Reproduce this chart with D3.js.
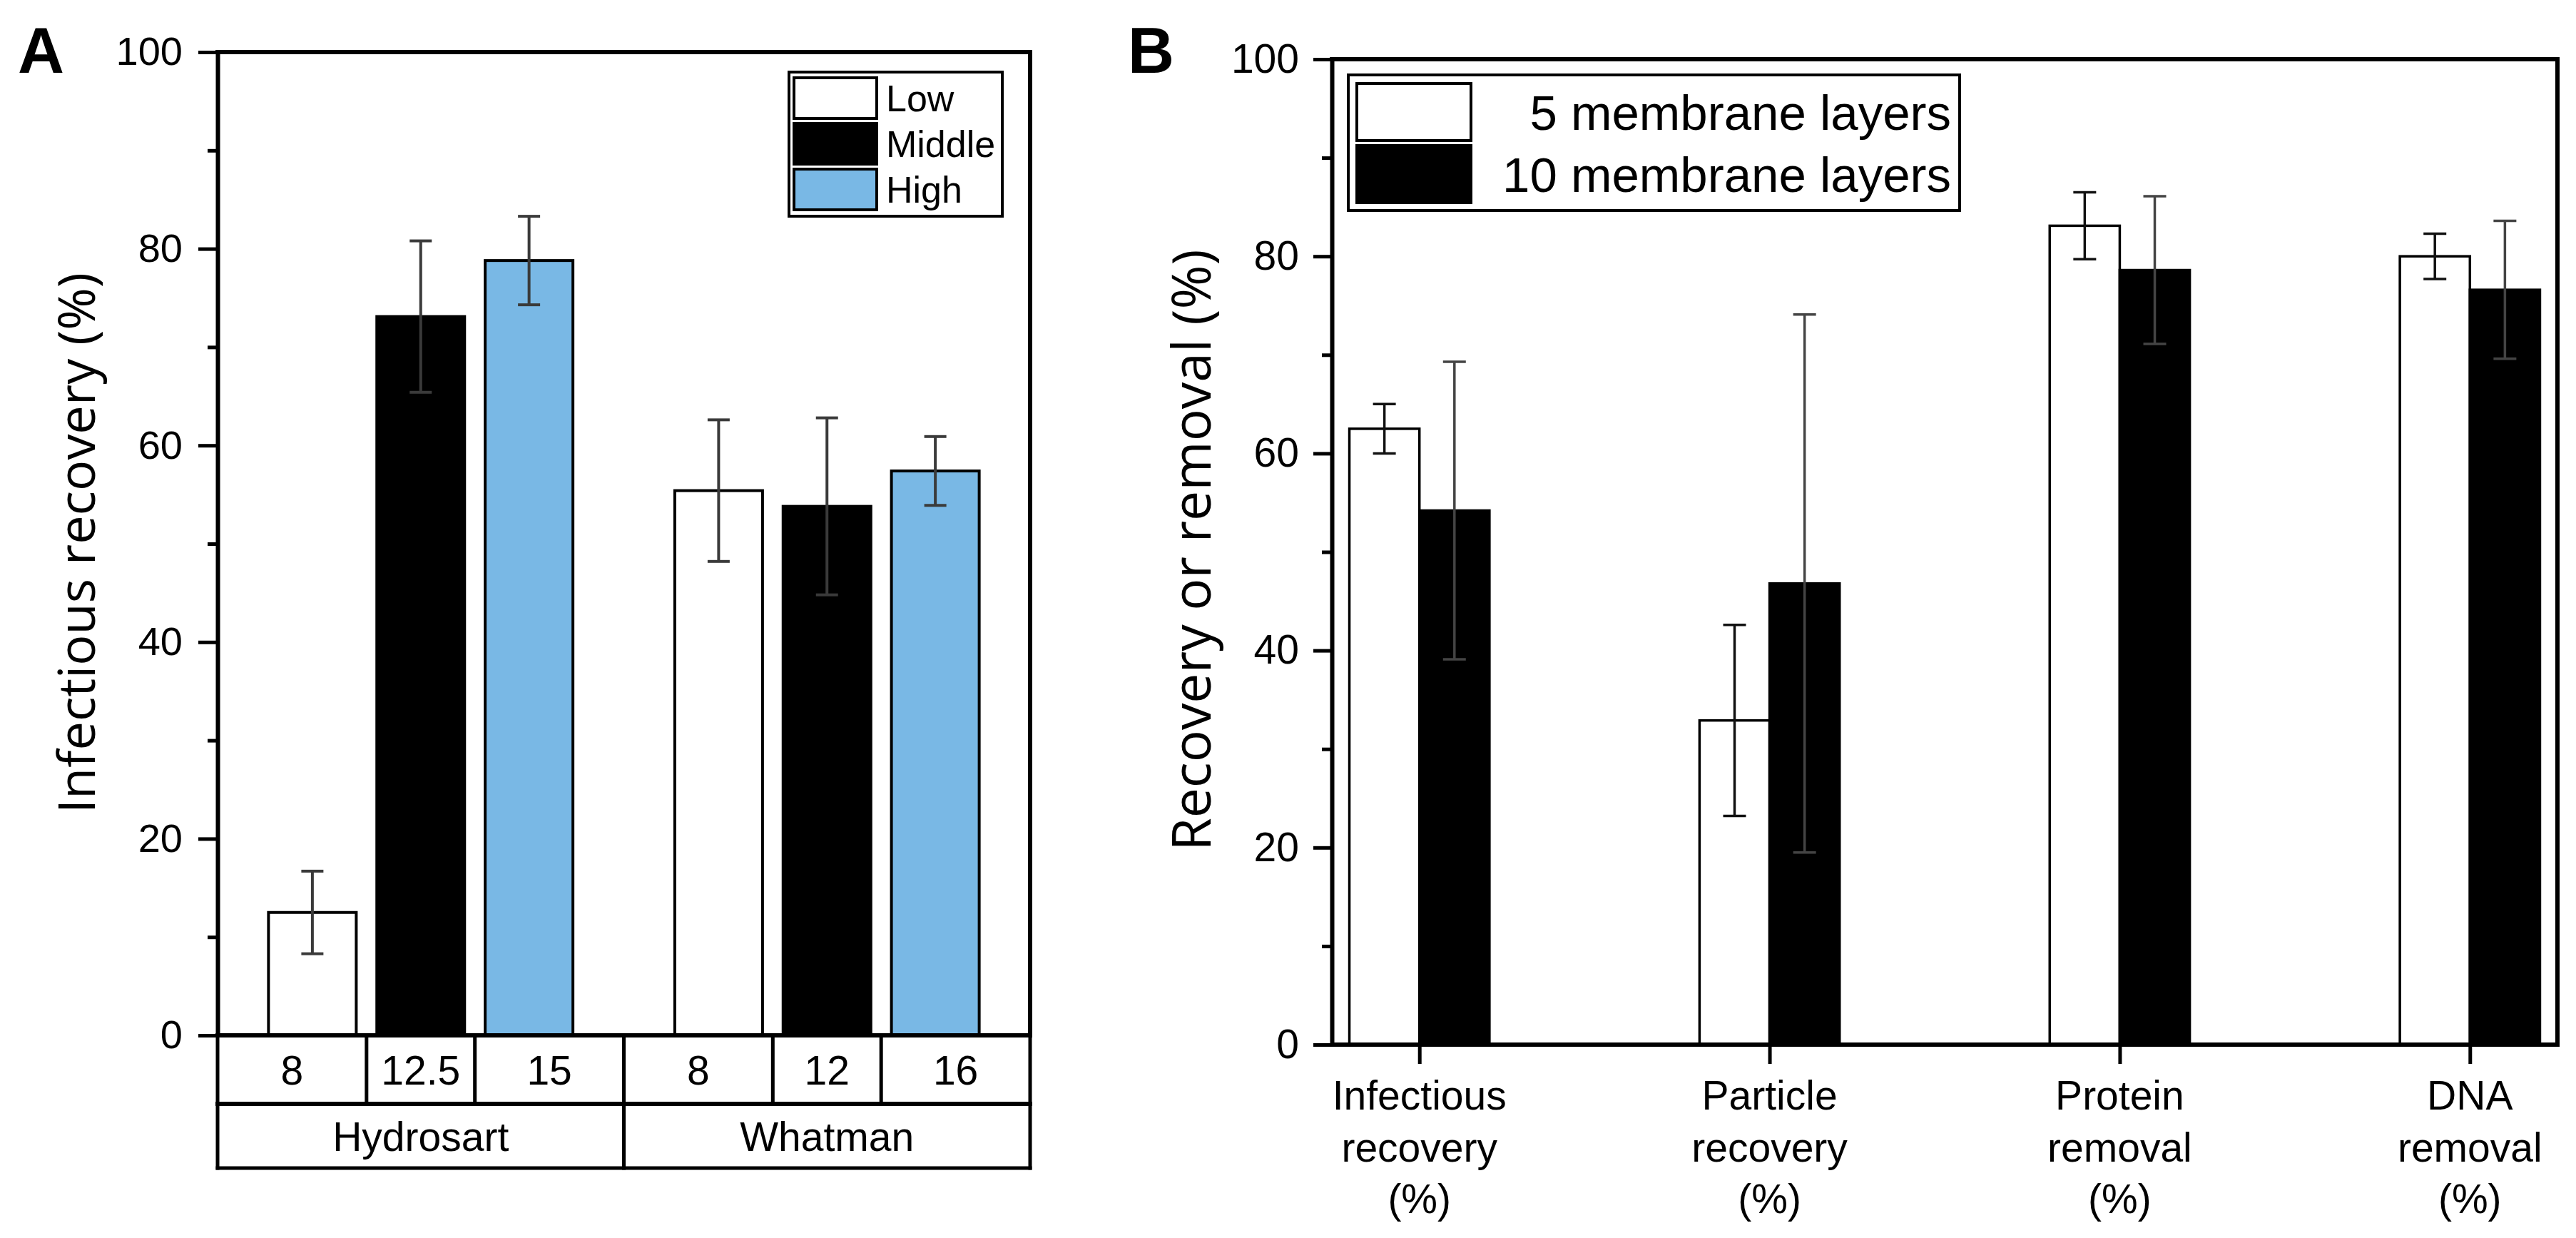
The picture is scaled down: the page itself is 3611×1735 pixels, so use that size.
<!DOCTYPE html>
<html>
<head>
<meta charset="utf-8">
<script src="https://cdn.jsdelivr.net/npm/d3@7"></script>
<style>
  html, body { margin: 0; padding: 0; background: #fff; }
  svg { display: block; }
</style>
</head>
<body>
<svg id="chart" width="3611" height="1735"></svg>
<script>
// ---------------- DATA ----------------
// Panel A
const groupsA = ["Hydrosart", "Whatman"];
const seriesA = ["Low", "Middle", "High"];
const sizeLabelsA = [["8", "12.5", "15"], ["8", "12", "16"]];
const valuesA_Hydrosart = [12.5, 73.1, 78.8];
const errorsA_Hydrosart = [4.2, 7.7, 4.5];
const valuesA_Whatman = [55.4, 53.8, 57.4];
const errorsA_Whatman = [7.2, 9.0, 3.5];
const yTicksA = [0, 20, 40, 60, 80, 100];
const yMinorA = [10, 30, 50, 70, 90];

// Panel B
const categoriesB = [
  ["Infectious", "recovery", "(%)"],
  ["Particle", "recovery", "(%)"],
  ["Protein", "removal", "(%)"],
  ["DNA", "removal", "(%)"]
];
const seriesB = ["5 membrane layers", "10 membrane layers"];
const values5 = [62.5, 32.9, 83.1, 80.0];
const errors5 = [2.5, 9.7, 3.4, 2.3];
const values10 = [54.2, 46.8, 78.6, 76.6];
const errors10 = [15.1, 27.3, 7.5, 7.0];
const yTicksB = [0, 20, 40, 60, 80, 100];
const yMinorB = [10, 30, 50, 70, 90];

// ---------------- STYLE ----------------
const ARIAL = "'Liberation Sans', Arial, sans-serif";
const TITLE_FONT = "'Open Sans', 'Noto Sans', sans-serif";
const colorsA = { "Low": "#ffffff", "Middle": "#000000", "High": "#79b8e5" };
const colorsB = { "5 membrane layers": "#ffffff", "10 membrane layers": "#000000" };
const errColorsB = { "5 membrane layers": "#111111", "10 membrane layers": "#444444" };
const AXIS_W = 6;

const svg = d3.select("#chart");
svg.append("rect").attr("width", 3611).attr("height", 1735).attr("fill", "#fff");

// ======================= PANEL A =======================
const A = { left: 305, right: 1444, top: 73, bottom: 1451 };
const gA = svg.append("g");
const yA = d3.scaleLinear().domain([0, 100]).range([A.bottom, A.top]);
const xGroupA = d3.scaleBand().domain(groupsA).range([A.left, A.right]).padding(0);
const xInnerA = d3.scaleBand().domain(seriesA).range([0, xGroupA.bandwidth()])
  .paddingInner(0.19).paddingOuter(0.47);

const tableA = groupsA.map((g, gi) => ({
  group: g,
  values: gi === 0 ? valuesA_Hydrosart : valuesA_Whatman,
  errors: gi === 0 ? errorsA_Hydrosart : errorsA_Whatman,
  sizes: sizeLabelsA[gi]
}));
const barsA = [];
tableA.forEach(row => seriesA.forEach((s, si) => barsA.push({
  group: row.group, series: s, value: row.values[si], err: row.errors[si], size: row.sizes[si], si
})));

const bw = xInnerA.bandwidth();
gA.selectAll("rect.bar").data(barsA).join("rect")
  .attr("class", "bar")
  .attr("x", d => xGroupA(d.group) + xInnerA(d.series))
  .attr("y", d => yA(d.value))
  .attr("width", bw)
  .attr("height", d => yA(0) - yA(d.value))
  .attr("fill", d => colorsA[d.series])
  .attr("stroke", "#000").attr("stroke-width", 4);

// error bars
const capA = 31;
const ebA = gA.selectAll("g.eb").data(barsA).join("g").attr("class", "eb")
  .attr("stroke", "#3a3a3a").attr("stroke-width", 4);
ebA.append("line")
  .attr("x1", d => xGroupA(d.group) + xInnerA(d.series) + bw / 2)
  .attr("x2", d => xGroupA(d.group) + xInnerA(d.series) + bw / 2)
  .attr("y1", d => yA(d.value + d.err)).attr("y2", d => yA(d.value - d.err));
["+", "-"].forEach(sign => {
  ebA.append("line")
    .attr("x1", d => xGroupA(d.group) + xInnerA(d.series) + bw / 2 - capA / 2)
    .attr("x2", d => xGroupA(d.group) + xInnerA(d.series) + bw / 2 + capA / 2)
    .attr("y1", d => yA(sign === "+" ? d.value + d.err : d.value - d.err))
    .attr("y2", d => yA(sign === "+" ? d.value + d.err : d.value - d.err));
});

// frame top + right
gA.append("line").attr("x1", A.left).attr("x2", A.right).attr("y1", A.top).attr("y2", A.top)
  .attr("stroke", "#000").attr("stroke-width", AXIS_W).attr("stroke-linecap", "square");
gA.append("line").attr("x1", A.right).attr("x2", A.right).attr("y1", A.top).attr("y2", A.bottom)
  .attr("stroke", "#000").attr("stroke-width", AXIS_W).attr("stroke-linecap", "square");

// y axis
function styleAxis(g, fs) {
  g.select(".domain").attr("stroke", "#000").attr("stroke-width", AXIS_W);
  g.selectAll(".tick line").attr("stroke", "#000").attr("stroke-width", 5);
  g.selectAll(".tick text").attr("font-family", ARIAL).attr("font-size", fs).attr("fill", "#000");
}
const axA = gA.append("g").attr("transform", `translate(${A.left},0)`)
  .call(d3.axisLeft(yA).tickValues(yTicksA).tickSize(27).tickPadding(22).tickSizeOuter(0));
styleAxis(axA, 56);
const axAm = gA.append("g").attr("transform", `translate(${A.left},0)`)
  .call(d3.axisLeft(yA).tickValues(yMinorA).tickSize(14).tickFormat("").tickSizeOuter(0));
styleAxis(axAm, 56);
axAm.select(".domain").remove();

// x baseline + table
const rowTop = A.bottom, rowMid = 1547, rowBot = 1637;
const lineA = (x1, y1, x2, y2, w) => gA.append("line").attr("x1", x1).attr("y1", y1)
  .attr("x2", x2).attr("y2", y2).attr("stroke", "#000").attr("stroke-width", w).attr("stroke-linecap", "square");
lineA(A.left, rowTop, A.right, rowTop, AXIS_W);
lineA(A.left, rowMid, A.right, rowMid, 6);
lineA(A.left, rowBot, A.right, rowBot, 5);
lineA(A.left, rowTop, A.left, rowBot, 5);
lineA(A.right, rowTop, A.right, rowBot, 5);
const step = xInnerA.step();
tableA.forEach((row, gi) => {
  const g0 = xGroupA(row.group), g1 = g0 + xGroupA.bandwidth();
  const bounds = [g0];
  for (let i = 0; i < seriesA.length - 1; i++) {
    bounds.push(g0 + xInnerA(seriesA[i]) + bw + (step - bw) / 2);
  }
  bounds.push(g1);
  if (gi > 0) lineA(g0, rowTop, g0, rowBot, 5);
  bounds.slice(1, -1).forEach(b => lineA(b, rowTop, b, rowMid, 5));
  row.sizes.forEach((s, i) => {
    gA.append("text").attr("x", (bounds[i] + bounds[i + 1]) / 2).attr("y", (rowTop + rowMid) / 2)
      .attr("dy", "0.36em").attr("text-anchor", "middle")
      .attr("font-family", ARIAL).attr("font-size", 57).text(s);
  });
  gA.append("text").attr("x", (g0 + g1) / 2).attr("y", (rowMid + rowBot) / 2)
    .attr("dy", "0.36em").attr("text-anchor", "middle")
    .attr("font-family", ARIAL).attr("font-size", 57).text(row.group);
});

// y title
gA.append("text").attr("transform", `translate(133,761) rotate(-90)`)
  .attr("text-anchor", "middle").attr("font-family", TITLE_FONT).attr("font-size", 72)
  .text("Infectious recovery (%)");

// panel label
svg.append("text").attr("x", 25).attr("y", 102).attr("font-family", ARIAL).attr("font-weight", "bold")
  .attr("font-size", 90).text("A");

// legend A
const legA = gA.append("g");
legA.append("rect").attr("x", 1106).attr("y", 101).attr("width", 299).attr("height", 202)
  .attr("fill", "#fff").attr("stroke", "#000").attr("stroke-width", 4);
seriesA.forEach((s, i) => {
  const yy = 109 + i * 64;
  legA.append("rect").attr("x", 1113).attr("y", yy).attr("width", 116).attr("height", 57)
    .attr("fill", colorsA[s]).attr("stroke", "#000").attr("stroke-width", 4);
  legA.append("text").attr("x", 1242).attr("y", yy + 29).attr("dy", "0.35em")
    .attr("font-family", ARIAL).attr("font-size", 52).text(s);
});

// ======================= PANEL B =======================
const B = { left: 1867, right: 3585, top: 83, bottom: 1464 };
const gB = svg.append("g");
const yB = d3.scaleLinear().domain([0, 100]).range([B.bottom, B.top]);
const catKeys = categoriesB.map(c => c.join(" "));
const xB = d3.scalePoint().domain(catKeys).range([B.left, B.right]).padding(0.25);
const barWB = xB.step() * 0.2;

const barsB = [];
catKeys.forEach((c, i) => {
  barsB.push({ cat: c, series: seriesB[0], value: values5[i], err: errors5[i], off: -1 });
  barsB.push({ cat: c, series: seriesB[1], value: values10[i], err: errors10[i], off: 0 });
});
gB.selectAll("rect.bar").data(barsB).join("rect")
  .attr("class", "bar")
  .attr("x", d => xB(d.cat) + d.off * barWB)
  .attr("y", d => yB(d.value))
  .attr("width", barWB)
  .attr("height", d => yB(0) - yB(d.value))
  .attr("fill", d => colorsB[d.series])
  .attr("stroke", "#000").attr("stroke-width", 3.5);

const capB = 32;
const ebB = gB.selectAll("g.eb").data(barsB).join("g").attr("class", "eb")
  .attr("stroke", d => errColorsB[d.series]).attr("stroke-width", 3.5);
const cxB = d => xB(d.cat) + d.off * barWB + barWB / 2;
ebB.append("line").attr("x1", cxB).attr("x2", cxB)
  .attr("y1", d => yB(d.value + d.err)).attr("y2", d => yB(d.value - d.err));
["+", "-"].forEach(sign => {
  ebB.append("line")
    .attr("x1", d => cxB(d) - capB / 2).attr("x2", d => cxB(d) + capB / 2)
    .attr("y1", d => yB(sign === "+" ? d.value + d.err : d.value - d.err))
    .attr("y2", d => yB(sign === "+" ? d.value + d.err : d.value - d.err));
});

// frame
gB.append("line").attr("x1", B.left).attr("x2", B.right).attr("y1", B.top).attr("y2", B.top)
  .attr("stroke", "#000").attr("stroke-width", AXIS_W).attr("stroke-linecap", "square");
gB.append("line").attr("x1", B.right).attr("x2", B.right).attr("y1", B.top).attr("y2", B.bottom)
  .attr("stroke", "#000").attr("stroke-width", AXIS_W).attr("stroke-linecap", "square");

const axB = gB.append("g").attr("transform", `translate(${B.left},0)`)
  .call(d3.axisLeft(yB).tickValues(yTicksB).tickSize(26).tickPadding(20).tickSizeOuter(0));
styleAxis(axB, 57);
const axBm = gB.append("g").attr("transform", `translate(${B.left},0)`)
  .call(d3.axisLeft(yB).tickValues(yMinorB).tickSize(14).tickFormat("").tickSizeOuter(0));
styleAxis(axBm, 57);
axBm.select(".domain").remove();

const axBx = gB.append("g").attr("transform", `translate(0,${B.bottom})`)
  .call(d3.axisBottom(xB).tickSize(27).tickFormat("").tickSizeOuter(0));
styleAxis(axBx, 57);
axBx.select(".domain").attr("d", `M${B.left},0H${B.right}`);

// category labels (3 lines)
categoriesB.forEach((lines, i) => {
  const t = gB.append("text").attr("text-anchor", "middle")
    .attr("font-family", ARIAL).attr("font-size", 57);
  lines.forEach((ln, j) => {
    t.append("tspan").attr("x", xB(catKeys[i])).attr("y", 1555 + j * 72.5).text(ln);
  });
});

// y title B
gB.append("text").attr("transform", `translate(1697,771) rotate(-90)`)
  .attr("text-anchor", "middle").attr("font-family", TITLE_FONT).attr("font-size", 75)
  .text("Recovery or removal (%)");

svg.append("text").attr("x", 1581).attr("y", 102).attr("font-family", ARIAL).attr("font-weight", "bold")
  .attr("font-size", 90).text("B");

// legend B
const legB = gB.append("g");
legB.append("rect").attr("x", 1890).attr("y", 105).attr("width", 857).attr("height", 190)
  .attr("fill", "#fff").attr("stroke", "#000").attr("stroke-width", 4);
seriesB.forEach((s, i) => {
  const yy = 117 + i * 87;
  legB.append("rect").attr("x", 1902).attr("y", yy).attr("width", 160).attr("height", 80)
    .attr("fill", colorsB[s]).attr("stroke", "#000").attr("stroke-width", 4);
  legB.append("text").attr("x", 2735).attr("y", yy + 40).attr("dy", "0.36em").attr("text-anchor", "end")
    .attr("font-family", ARIAL).attr("font-size", 69).text(s);
});
</script>
</body>
</html>
